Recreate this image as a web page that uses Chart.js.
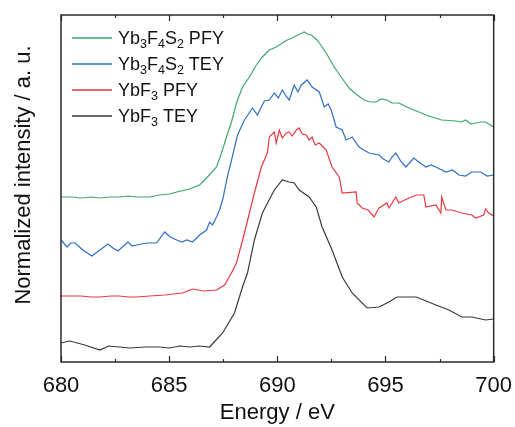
<!DOCTYPE html>
<html>
<head>
<meta charset="utf-8">
<script src="https://cdn.jsdelivr.net/npm/chart.js@4/dist/chart.umd.min.js"></script>
<style>
  html,body{margin:0;padding:0;background:#fff;}
  #wrap{width:515px;height:427px;}
</style>
</head>
<body>
<div id="wrap"><canvas id="c" width="515" height="427"></canvas></div>
<script>
// ---- Data (energy in eV, intensity in arbitrary offset units) ----
const xTicks = [680, 685, 690, 695, 700];

const greenE = [680.00,680.50,680.90,681.40,681.80,682.30,682.70,683.10,683.50,684.10,684.56,685.00,685.35,685.94,686.41,686.77,687.19,687.42,687.65,687.88,688.11,688.39,688.71,689.03,689.31,689.63,689.95,690.23,690.46,690.69,690.95,691.15,691.24,691.38,691.57,691.84,691.94,692.26,692.63,692.95,693.32,693.69,694.01,694.30,694.56,694.80,695.07,695.30,695.62,695.80,696.08,696.54,697.00,697.60,698.25,698.50,698.71,698.95,699.17,699.40,699.63,700.00];
const greenI = [165,165,164,165,164,165,165,166,165,165,167,168,170,173,177,185,195,209,225,240,259,275,285,297,305,312,315,319,322,324,327,329,330,328,327,322,319,309,295,285,274,267,262,260,260,263,262,259,259,257,254,250,246,242,241,240,242,238,239,240,240,235];

const blueE = [680.00,680.28,680.45,680.65,681.01,681.43,681.80,682.17,682.40,682.63,683.09,683.30,683.50,683.96,684.42,684.79,685.05,685.35,685.60,685.81,686.08,686.41,686.73,686.87,687.00,687.19,687.33,687.47,687.70,687.93,688.16,688.48,688.85,689.08,689.40,689.63,689.86,690.05,690.23,690.40,690.55,690.78,690.95,691.11,691.38,691.61,691.94,692.17,692.35,692.49,692.72,693.00,693.18,693.46,693.78,694.00,694.24,694.70,694.90,695.16,695.30,695.48,695.70,695.94,696.31,696.60,696.87,697.10,697.33,697.79,698.10,698.39,698.70,698.99,699.40,699.70,700.00];
const blueI = [122,115,119,119,112,106,112,118,114,111,120,116,117,119,119,130,125,122,120,122,120,127,132,140,137,145,152,162,186,206,227,242,254,247,261,262,269,264,272,266,262,277,270,277,282,275,270,255,258,252,235,232,222,225,215,212,209,207,203,200,205,209,201,195,204,199,195,197,195,190,192,187,186,190,190,186,187];

const redE = [680.00,680.50,680.90,681.40,681.80,682.30,682.70,683.10,683.50,684.10,684.80,685.20,685.62,686.08,686.60,687.19,687.56,687.88,688.11,688.48,688.94,689.26,689.54,689.63,689.86,689.95,690.09,690.23,690.41,690.55,690.69,690.88,691.01,691.15,691.34,691.47,691.61,691.75,691.94,692.26,692.53,692.86,693.00,693.64,693.69,693.92,694.20,694.47,694.70,695.07,695.16,695.48,695.62,696.08,696.45,696.77,696.87,697.33,697.56,697.60,697.79,698.06,698.53,698.99,699.17,699.54,699.63,699.77,700.00];
const redI = [66,66,66,65,65,66,66,65,65,66,67,68,69,73,71,72,77,89,99,129,169,195,209,225,230,219,232,224,229,230,226,232,234,228,227,222,225,217,219,212,195,185,169,170,159,154,152,145,154,159,154,165,159,164,167,167,155,157,149,165,152,152,149,147,144,147,153,149,146];

const blackE = [680.00,680.41,681.10,681.80,682.20,682.70,683.18,683.90,684.56,685.00,685.50,685.94,686.40,686.87,687.47,688.02,688.39,688.62,688.94,689.31,689.86,690.23,690.55,690.78,691.01,691.47,691.80,692.07,692.53,693.00,693.46,694.15,694.70,695.16,695.53,695.94,696.41,696.77,697.33,697.93,698.53,698.99,699.63,700.00];
const blackI = [19,21,17,12,16,15,14,15,15,14,16,15,16,15,29,49,75,89,122,149,172,182,180,179,172,165,155,135,112,85,69,54,55,60,65,65,65,62,57,52,45,45,42,43];

const seriesNames = ["Yb3F4S2 PFY", "Yb3F4S2 TEY", "YbF3 PFY", "YbF3 TEY"];
const colors = ["#3da86b", "#2f6fc4", "#e8383f", "#3a3a3a"];

function pts(E, I){ return E.map((e,i)=>({x:e, y:I[i]})); }

const FONT = "'Liberation Sans', Arial, Helvetica, sans-serif";

// Custom drawing: frame, inward ticks, legend with subscripts, y title
const decor = {
  id: 'decor',
  afterDraw(chart){
    const ctx = chart.ctx, a = chart.chartArea, xs = chart.scales.x;
    ctx.save();
    ctx.strokeStyle = '#2a2a2a';
    ctx.lineWidth = 1.5;
    ctx.strokeRect(a.left, a.top, a.right - a.left, a.bottom - a.top);
    ctx.lineWidth = 1.2;
    for (let v = 680; v <= 700.001; v += 2.5){
      const major = Math.abs(v/5 - Math.round(v/5)) < 1e-6;
      const L = major ? 6 : 3;
      const px = Math.round(xs.getPixelForValue(v)) + 0.5;
      ctx.beginPath();
      ctx.moveTo(px, a.bottom); ctx.lineTo(px, a.bottom - L);
      ctx.moveTo(px, a.top); ctx.lineTo(px, a.top + L);
      ctx.stroke();
    }
    const rows = [38, 64, 90, 116];
    const parts = [
      [["Yb",0],["3",1],["F",0],["4",1],["S",0],["2",1],[" PFY",0]],
      [["Yb",0],["3",1],["F",0],["4",1],["S",0],["2",1],[" TEY",0]],
      [["YbF",0],["3",1],[" PFY",0]],
      [["YbF",0],["3",1],[" TEY",0]]
    ];
    rows.forEach((y, i) => {
      ctx.strokeStyle = colors[i];
      ctx.lineWidth = 1.3;
      ctx.beginPath(); ctx.moveTo(72, y); ctx.lineTo(112, y); ctx.stroke();
      let x = 118;
      ctx.fillStyle = '#111';
      ctx.textBaseline = 'alphabetic';
      ctx.textAlign = 'left';
      parts[i].forEach(([t, sub]) => {
        ctx.font = (sub ? '12.5px ' : '18px ') + FONT;
        ctx.fillText(t, x, y + 6 + (sub ? 4 : 0));
        x += ctx.measureText(t).width;
      });
    });
    ctx.translate(24, 175);
    ctx.rotate(-Math.PI/2);
    ctx.font = '22px ' + FONT;
    ctx.fillStyle = '#111';
    ctx.textAlign = 'center';
    ctx.textBaseline = 'middle';
    ctx.fillText('Normalized intensity / a. u.', 0, 0);
    ctx.restore();
  }
};

const ds = [
  {label: seriesNames[0], data: pts(greenE, greenI), borderColor: colors[0]},
  {label: seriesNames[1], data: pts(blueE, blueI), borderColor: colors[1]},
  {label: seriesNames[2], data: pts(redE, redI), borderColor: colors[2]},
  {label: seriesNames[3], data: pts(blackE, blackI), borderColor: colors[3]}
].map(d => Object.assign(d, {borderWidth: 1.2, pointRadius: 0, tension: 0, fill: false}));

new Chart(document.getElementById('c'), {
  type: 'line',
  data: { datasets: ds },
  options: {
    responsive: false,
    animation: false,
    events: [],
    layout: { padding: { top: 15, right: 0, left: 0, bottom: 0 } },
    plugins: { legend: { display: false }, tooltip: { enabled: false } },
    scales: {
      x: {
        type: 'linear', min: 680, max: 700,
        grid: { display: false },
        border: { display: false },
        afterBuildTicks: s => { s.ticks = xTicks.map(v => ({value: v})); },
        ticks: { color: '#111', font: { size: 22, family: FONT }, padding: 3, maxRotation: 0 },
        title: { display: true, text: 'Energy / eV', color: '#111', font: { size: 22, family: FONT }, padding: { top: 0, bottom: 1 } },
        afterFit: s => { s.height = 65; }
      },
      y: {
        type: 'linear', min: 0, max: 347,
        grid: { display: false },
        border: { display: false },
        ticks: { display: false },
        afterFit: s => { s.width = 61; }
      }
    }
  },
  plugins: [decor]
});
</script>
</body>
</html>
